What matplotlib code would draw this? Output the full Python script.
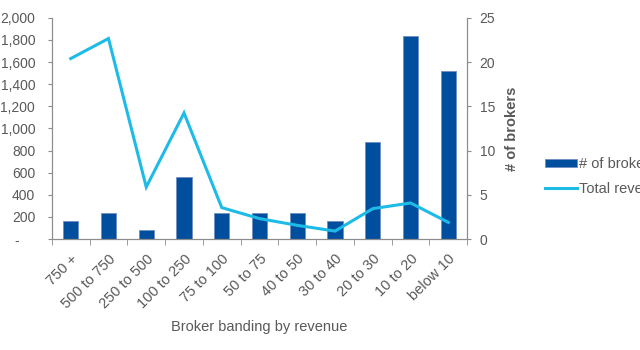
import numpy as np
import matplotlib
matplotlib.use("Agg")
import matplotlib.pyplot as plt
from matplotlib.patches import Patch
from matplotlib.lines import Line2D
from matplotlib.ticker import FuncFormatter

plt.rcParams['font.family'] = ['Liberation Sans', 'DejaVu Sans']

bands = ["750 +", "500 to 750", "250 to 500", "100 to 250", "75 to 100",
         "50 to 75", "40 to 50", "30 to 40", "20 to 30", "10 to 20", "below 10"]
brokers = [2, 3, 1, 7, 3, 3, 3, 2, 11, 23, 19]
revenue = [1632, 1813, 470, 1140, 284, 185, 124, 72, 275, 326, 151]

grey = '#595959'
spine = '#8c8c8c'
bar_col = '#004f9e'
line_col = '#1ebbe8'

fig = plt.figure(figsize=(6.4, 3.5), dpi=100)
ax = fig.add_axes([0.081, 0.317, 0.649, 0.632])
ax2 = ax.twinx()

x = np.arange(len(bands))
ax2.bar(x, brokers, width=0.4, color=bar_col, edgecolor='#6f8fc0', linewidth=0.6)
ax.plot(x, revenue, color=line_col, lw=2.2, solid_joinstyle='miter')

ax.set_zorder(ax2.get_zorder() + 1)
ax.patch.set_visible(False)

ax.set_xlim(-0.5, len(bands) - 0.5)
ax.set_ylim(0, 2000)
ax.set_yticks(np.arange(0, 2001, 200))
ax.yaxis.set_major_formatter(FuncFormatter(lambda v, p: '-    ' if v == 0 else f'{int(v):,}'))
ax2.set_ylim(0, 25)
ax2.set_yticks(np.arange(0, 26, 5))

ax.set_xticks(x)
ax.set_xticklabels(bands, rotation=45, ha='right', rotation_mode='anchor')
ax.set_xticks(np.arange(-0.5, len(bands)), minor=True)
ax.tick_params(axis='x', which='major', length=0, pad=9)
ax.tick_params(axis='x', which='minor', length=4, color=spine)

for a in (ax, ax2):
    a.tick_params(axis='y', length=3, color=spine, labelcolor=grey, labelsize=10)
    a.tick_params(axis='x', labelcolor=grey, labelsize=10.5)
    a.spines['top'].set_visible(False)
    for s in ('left', 'right', 'bottom'):
        a.spines[s].set_color(spine)
ax.tick_params(axis='y', pad=9)
ax2.tick_params(axis='y', pad=6)

ax.set_xlabel("Broker banding by revenue", color=grey, fontsize=10.5, labelpad=7)
ax2.set_ylabel("# of brokers", color=grey, fontsize=10.5, fontweight='bold', labelpad=7)

handles = [Patch(facecolor=bar_col, edgecolor='#6f8fc0', linewidth=0.6),
           Line2D([0], [0], color=line_col, lw=2.2)]
fig.legend(handles, ["# of brokers", "Total revenue"], loc='upper left',
           bbox_to_anchor=(0.843, 0.568), frameon=False, fontsize=10.5,
           handlelength=2.2, handleheight=0.5, handletextpad=0.1,
           labelspacing=0.75, labelcolor=grey, borderaxespad=0)

fig.savefig("out.png", dpi=100)
